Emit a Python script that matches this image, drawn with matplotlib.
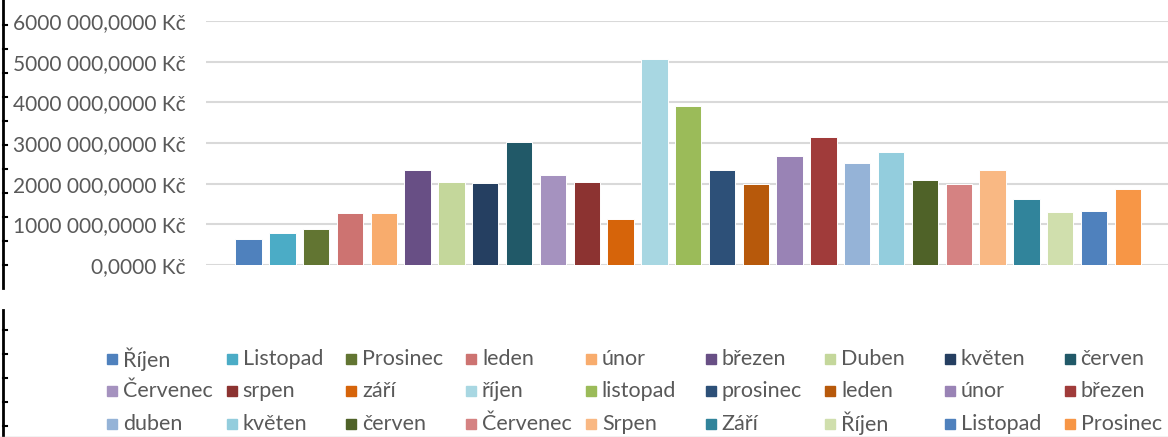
import matplotlib
matplotlib.use("Agg")
import matplotlib.pyplot as plt
from matplotlib.patches import Rectangle
from matplotlib.lines import Line2D
from matplotlib.ticker import FuncFormatter

months = ["Říjen", "Listopad", "Prosinec", "leden", "únor", "březen", "Duben",
          "květen", "červen", "Červenec", "srpen", "září", "říjen", "listopad",
          "prosinec", "leden", "únor", "březen", "duben", "květen", "červen",
          "Červenec", "Srpen", "Září", "Říjen", "Listopad", "Prosinec"]
values = [640000, 780000, 880000, 1270000, 1270000, 2330000, 2050000,
          2010000, 3030000, 2220000, 2050000, 1130000, 5060000, 3900000,
          2330000, 1980000, 2680000, 3140000, 2500000, 2780000, 2080000,
          1980000, 2330000, 1630000, 1310000, 1340000, 1870000]
colors = ["#4F81BD", "#4BACC6", "#627532", "#CD7371", "#F8AC6D", "#684F85",
          "#C4D79B", "#253F61", "#215968", "#A592BF", "#8C3331", "#D6640A",
          "#A8D7E2", "#9BBB59", "#2D5078", "#B7590B", "#9983B5", "#A03B3A",
          "#95B3D7", "#93CDDD", "#4F6228", "#D58282", "#F9B883", "#31849B",
          "#D0DFAD", "#4F81BD", "#F79646"]

plt.rcParams["font.family"] = ["Lato", "DejaVu Sans"]
grey = "#595959"
W, H = 1168, 437

fig = plt.figure(figsize=(W / 100, H / 100), dpi=100)
ax = fig.add_axes([206 / W, 172 / H, 962 / W, 244 / H])

for i, (v, c, m) in enumerate(zip(values, colors, months)):
    ax.bar(i, v, width=0.78, color=c, edgecolor="white", linewidth=0.7,
           label=m, zorder=3)

ax.set_xlim(-1.26, 27.19)
ax.set_ylim(0, 6000000)
ax.set_yticks(range(0, 6000001, 1000000))


def kc(v, pos):
    if v == 0:
        return "0,0000 Kč"
    return f"{int(v // 1000)} 000,0000 Kč"


ax.yaxis.set_major_formatter(FuncFormatter(kc))
ax.tick_params(axis="y", length=0, pad=15, labelsize=15, labelcolor=grey)
ax.set_xticks([])
ax.grid(axis="y", color="#d9d9d9", linewidth=1.5, zorder=0)
for s in ax.spines.values():
    s.set_visible(False)

# legend laid out like the Excel one: fixed-width columns
for i, (m, c) in enumerate(zip(months, colors)):
    row, col = divmod(i, 9)
    x = 107 + col * 119.7
    y = H - (359 + row * 32.3)
    fig.patches.append(Rectangle((x / W, (y - 5) / H), 10 / W, 10 / H,
                                 transform=fig.transFigure, color=c))
    fig.text((x + 16) / W, y / H, m, ha="left", va="center",
             fontsize=15.5, color=grey)

# window edge left in the screenshot
fig.add_artist(Line2D([3 / W, 3 / W], [(H - 288) / H, 1], color="black", lw=2))
fig.add_artist(Line2D([3 / W, 3 / W], [0, (H - 310) / H], color="black", lw=2))
for yy in list(range(25, 288, 24)) + list(range(330, 437, 24)):
    fig.add_artist(Line2D([3 / W, 7 / W], [(H - yy) / H] * 2, color="black", lw=1.5))
fig.add_artist(Line2D([0, 1], [0.5 / H, 0.5 / H], color="#bfbfbf", lw=1))

fig.savefig("out.png", dpi=100)
